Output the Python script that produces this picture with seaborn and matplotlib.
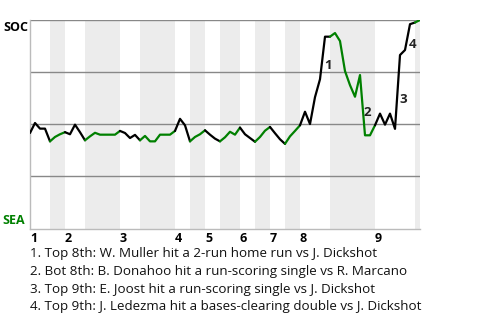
import matplotlib
matplotlib.use("Agg")
import matplotlib.pyplot as plt
import seaborn as sns
import pandas as pd
import numpy as np

# ---- data ----
win_prob = [0.458, 0.506, 0.479, 0.479, 0.418, 0.439, 0.452, 0.462, 0.452, 0.498,
            0.462, 0.423, 0.442, 0.459, 0.450, 0.450, 0.450, 0.450, 0.468, 0.458,
            0.434, 0.449, 0.423, 0.444, 0.418, 0.418, 0.450, 0.450, 0.450, 0.468,
            0.526, 0.495, 0.418, 0.439, 0.452, 0.471, 0.450, 0.431, 0.418, 0.4375,
            0.464, 0.450, 0.484, 0.452, 0.434, 0.416, 0.439, 0.469, 0.487, 0.457,
            0.428, 0.406, 0.442, 0.468, 0.495, 0.560, 0.501, 0.630, 0.716, 0.920,
            0.920, 0.9375, 0.899, 0.755, 0.6875, 0.632, 0.736, 0.447, 0.447, 0.495,
            0.551, 0.498, 0.551, 0.478, 0.832, 0.856, 0.980, 0.988, 1.0]
half_breaks = [0, 4, 7, 11, 18, 22, 29, 32, 35, 38, 42, 45, 48, 51, 54, 60, 69, 77, 78]
inning_labels = ["1", "2", "3", "4", "5", "6", "7", "8", "9"]
event_index = [58, 66, 73, 75]
event_labels = ["1", "2", "3", "4"]
team_top = "SOC"
team_bottom = "SEA"
footnotes = [
    "1. Top 8th: W. Muller hit a 2-run home run vs J. Dickshot",
    "2. Bot 8th: B. Donahoo hit a run-scoring single vs R. Marcano",
    "3. Top 9th: E. Joost hit a run-scoring single vs J. Dickshot",
    "4. Top 9th: J. Ledezma hit a bases-clearing double vs J. Dickshot",
]

df = pd.DataFrame({"event": np.arange(len(win_prob)), "wp": win_prob})

sns.set_theme(style="white")
plt.rcParams["font.family"] = ["Open Sans", "DejaVu Sans"]

W, H = 480, 320
fig = plt.figure(figsize=(W / 100, H / 100), dpi=100)
ax_top, ax_bot, ax_l, ax_r = 20, 228.5, 30, 420
ax = fig.add_axes([ax_l / W, 1 - ax_bot / H, (ax_r - ax_l) / W, (ax_bot - ax_top) / H])

BLACK = "#000000"
GREEN = "#008000"

# shading and line per half inning
for i in range(len(half_breaks) - 1):
    s, e = half_breaks[i], half_breaks[i + 1]
    bottom_half = (i % 2 == 1)
    if bottom_half:
        ax.axvspan(s, e, color="#ececec", lw=0, zorder=0)
    seg = df[(df.event >= s) & (df.event <= e)]
    sns.lineplot(data=seg, x="event", y="wp", ax=ax, color=GREEN if bottom_half else BLACK,
                 lw=1.6, zorder=3, estimator=None, sort=False)

for g in [0.25, 0.5, 0.75, 1.0]:
    ax.axhline(g, color="#888888", lw=1.0, zorder=1)

ax.set_xlim(0, len(win_prob) - 1)
ax.set_ylim(0, 1)
ax.set_xticks([])
ax.set_yticks([])
ax.set_xlabel("")
ax.set_ylabel("")
for side in ["top", "right"]:
    ax.spines[side].set_visible(False)
for side in ["left", "bottom"]:
    ax.spines[side].set_color("#bbbbbb")
    ax.spines[side].set_linewidth(1.0)

# inning labels
inning_starts = [half_breaks[j] for j in range(0, len(half_breaks) - 1, 2)]
trans = matplotlib.transforms.blended_transform_factory(ax.transData, ax.transAxes)
for st, lab in zip(inning_starts, inning_labels):
    ax.text(st, -(238.5 - ax_bot) / (ax_bot - ax_top), lab, transform=trans, ha="left",
            va="center", fontsize=9, fontweight="bold", color="black")

# event labels
for idx, lab in zip(event_index, event_labels):
    xm = idx + 0.5
    ym = (win_prob[idx] + win_prob[idx + 1]) / 2
    ax.annotate(lab, (xm, ym), xytext=(1.5, -1), textcoords="offset pixels",
                ha="left", va="top", fontsize=9.5, fontweight="bold", color="#222222", zorder=5)

# team labels
fig.text(3 / W, 1 - 27.5 / H, team_top, ha="left", va="center", fontsize=9,
         fontweight="bold", color="black")
fig.text(2 / W, 1 - 221 / H, team_bottom, ha="left", va="center", fontsize=9,
         fontweight="bold", color=GREEN)

# footnotes
for i, t in enumerate(footnotes):
    fig.text(30 / W, 1 - (254 + 17.5 * i) / H, t, ha="left", va="center",
             fontsize=9.6, color="#111111")

fig.savefig("out.png", dpi=100)
